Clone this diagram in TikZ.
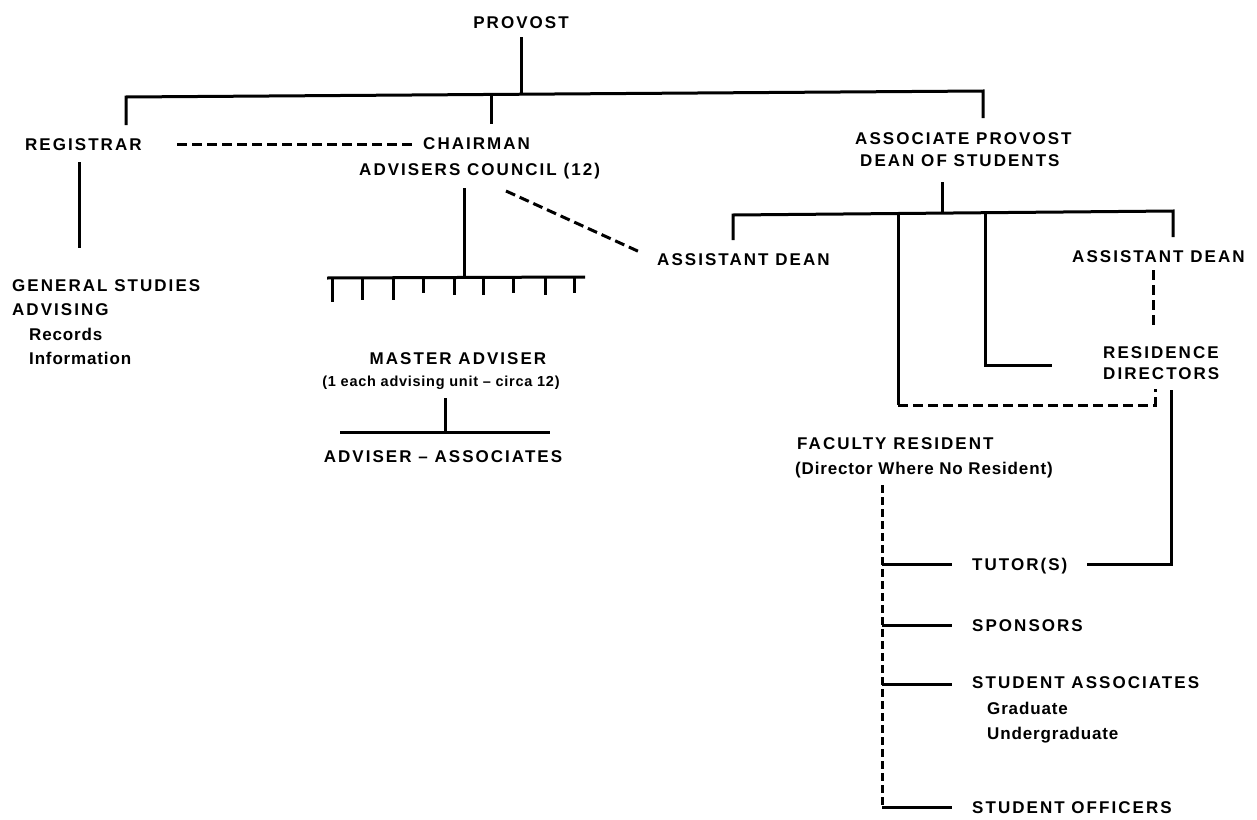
\documentclass[tikz,border=0pt]{standalone}
\usepackage{fontspec}
\newfontfamily\capf{Liberation Sans}[LetterSpace=12]
\newfontfamily\lowf{Liberation Sans}[LetterSpace=5]
\begin{document}
\begin{tikzpicture}[x=1pt,y=-1pt,
  lbl/.style={inner sep=0pt, anchor=base west, font=\capf\bfseries\fontsize{17}{20}\selectfont},
  sub/.style={inner sep=0pt, anchor=base west, font=\lowf\bfseries\fontsize{17}{20}\selectfont},
  subsm/.style={inner sep=0pt, anchor=base, font=\lowf\bfseries\fontsize{14.5}{17}\selectfont},
  ln/.style={line width=3pt},
  dsh/.style={line width=3pt, dash pattern=on 10pt off 5pt},
  vdsh/.style={line width=3pt, dash pattern=on 8pt off 4pt}]
\fill[white] (0,0) rectangle (1257,819);
\useasboundingbox (0,0) rectangle (1257,819);

% ---- text nodes
\node[lbl, anchor=base] (provost) at (521,28) {PROVOST};
\node[lbl] (registrar) at (25,150) {REGISTRAR};
\node[lbl] (chairman) at (423,149) {CHAIRMAN};
\node[lbl] (council) at (359,175) {ADVISERS COUNCIL (12)};
\node[lbl] (gs) at (12,291) {GENERAL STUDIES};
\node[lbl] (advising) at (12,315) {ADVISING};
\node[sub] (records) at (29,340) {Records};
\node[sub] (info) at (29,364) {Information};
\node[lbl, anchor=base] (master) at (458,364) {MASTER ADVISER};
\node[subsm] (unit) at (441,386) {(1 each advising unit – circa 12)};
\node[lbl, anchor=base] (advassoc) at (443,462) {ADVISER – ASSOCIATES};
\node[lbl] (asst1) at (657,265) {ASSISTANT DEAN};
\node[lbl] (assocprov) at (855,144) {ASSOCIATE PROVOST};
\node[lbl] (dos) at (860,166) {DEAN OF STUDENTS};
\node[lbl] (asst2) at (1072,262) {ASSISTANT DEAN};
\node[lbl] (residence) at (1103,358) {RESIDENCE};
\node[lbl] (directors) at (1103,379) {DIRECTORS};
\node[lbl] (faculty) at (797,449) {FACULTY RESIDENT};
\node[sub] (director) at (795,474) {(Director Where No Resident)};
\node[lbl] (tutors) at (972,570) {TUTOR(S)};
\node[lbl] (sponsors) at (972,631) {SPONSORS};
\node[lbl] (stassoc) at (972,688) {STUDENT ASSOCIATES};
\node[sub] (grad) at (987,714) {Graduate};
\node[sub] (ugrad) at (987,739) {Undergraduate};
\node[lbl] (stoff) at (972,813) {STUDENT OFFICERS};

% ---- coordinates
\coordinate (pvtop) at (521,37);
\coordinate (pvj) at (521,94.3);
\coordinate (bl) at (126,97);
\coordinate (br) at (983,91);
\coordinate (chj) at (491,94.6);
\coordinate (regtop) at (126,125);
\coordinate (chtop) at (491,124);
\coordinate (aptop) at (983,118);
\coordinate (rd1) at (177,144);
\coordinate (rd2) at (412,144);
\coordinate (regv1) at (79,162);
\coordinate (regv2) at (79,248);
\coordinate (chv1) at (464,188);
\coordinate (combj) at (464,278);
\coordinate (combl) at (327,278);
\coordinate (combr) at (585,277);
\coordinate (diag1) at (506,191);
\coordinate (diag2) at (642,253);
\coordinate (mav1) at (445,398);
\coordinate (mavj) at (445,432);
\coordinate (mahl) at (340,432);
\coordinate (mahr) at (550,432);
\coordinate (dv1) at (942,182);
\coordinate (dvj) at (942,213);
\coordinate (dbl) at (733,215);
\coordinate (dbr) at (1173,211);
\coordinate (dl2) at (733,240);
\coordinate (dr2) at (1173,237);
\coordinate (fv) at (898,213.8);
\coordinate (fvb) at (898,405);
\coordinate (rdb) at (1155,405);
\coordinate (rdt) at (1155,389);
\coordinate (sv) at (985,213.3);
\coordinate (svb) at (985,365);
\coordinate (sve) at (1052,365);
\coordinate (adv1) at (1153,270);
\coordinate (adv2) at (1153,328);
\coordinate (tv1) at (1171,390);
\coordinate (tv2) at (1171,564);
\coordinate (tve) at (1087,564);
\coordinate (fr1) at (882,485);
\coordinate (fr2) at (882,807);
\coordinate (b1) at (882,564);
\coordinate (b1e) at (952,564);
\coordinate (b2) at (882,625);
\coordinate (b2e) at (952,625);
\coordinate (b3) at (882,684);
\coordinate (b3e) at (952,684);
\coordinate (b4e) at (952,807);

% ---- connectors
\draw[ln] (pvtop) -- (pvj);
\draw[ln] (regtop) -- (bl) -- (br) -- (aptop);
\draw[ln] (chj) -- (chtop);
\draw[dsh] (rd1) -- (rd2);
\draw[ln] (regv1) -- (regv2);
\draw[ln] (chv1) -- (combj);
\draw[ln] (combl) -- (combr);
\foreach \x/\b in {332/302,362/300,393/300,423/293,454/295,483/295,513/293,545/295,574/293}
  \draw[ln] (\x,278) -- (\x,\b);
\draw[dsh] (diag1) -- (diag2);
\draw[ln] (mav1) -- (mavj);
\draw[ln] (mahl) -- (mahr);
\draw[ln] (dv1) -- (dvj);
\draw[ln] (dl2) -- (dbl) -- (dbr) -- (dr2);
\draw[ln] (fv) -- (fvb);
\draw[dsh] (fvb) -- (rdb) -- (rdt);
\draw[ln] (sv) -- (svb) -- (sve);
\draw[dsh] (adv1) -- (adv2);
\draw[ln] (tv1) -- (tv2) -- (tve);
\draw[vdsh] (fr1) -- (fr2);
\draw[ln] (b1) -- (b1e);
\draw[ln] (b2) -- (b2e);
\draw[ln] (b3) -- (b3e);
\draw[ln] (fr2) -- (b4e);
\end{tikzpicture}
\end{document}
